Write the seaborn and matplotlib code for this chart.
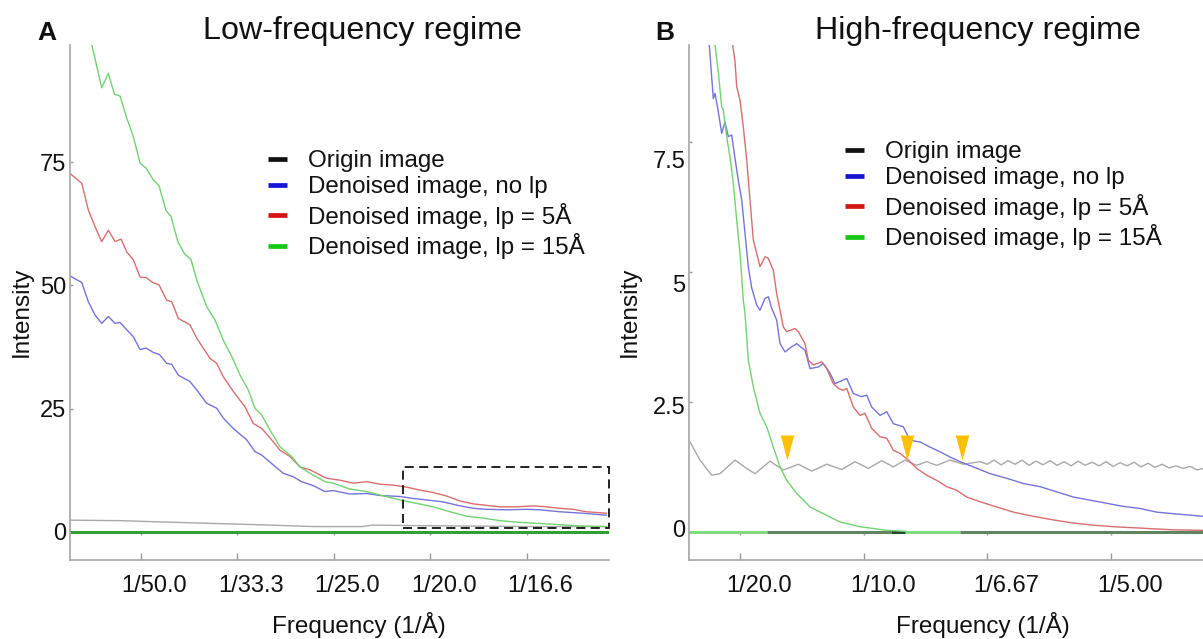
import numpy as np
import pandas as pd
import matplotlib
matplotlib.use("Agg")
import matplotlib.pyplot as plt
import seaborn as sns
from matplotlib.lines import Line2D
from matplotlib.patches import Rectangle
from matplotlib.transforms import ScaledTranslation

# ---------------- data: panel A (low-frequency regime) ----------------
a_green_f = [0.01420, 0.01489, 0.01592, 0.01661, 0.01723, 0.01782, 0.01852, 0.01920, 0.01990, 0.02052,
             0.02128, 0.02187, 0.02259, 0.02311, 0.02381, 0.02449, 0.02519, 0.02578, 0.02681, 0.02767,
             0.02853, 0.02941, 0.03027, 0.03113, 0.03182, 0.03252, 0.03338, 0.03441, 0.03563, 0.03649,
             0.03753, 0.03908, 0.03994, 0.04167, 0.04341, 0.04478, 0.04686, 0.04859, 0.05032, 0.05205,
             0.05378, 0.05550, 0.05723, 0.05896, 0.06068, 0.06241, 0.06414, 0.06587, 0.06830]
a_green_v = [103.5, 98.8, 90.1, 93.0, 88.8, 88.4, 83.9, 80.2, 74.8, 73.8,
             71.4, 70.2, 65.2, 64.0, 58.9, 56.5, 55.2, 51.1, 45.7, 43.0,
             38.9, 35.6, 31.8, 28.8, 25.1, 23.7, 20.7, 17.3, 15.3, 13.2,
             11.9, 10.2, 9.9, 8.7, 8.2, 7.5, 6.5, 5.8, 5.1, 4.1,
             3.2, 2.8, 2.3, 2.0, 1.8, 1.6, 1.4, 1.2, 1.1]

a_red_f = [0.01264, 0.01385, 0.01453, 0.01523, 0.01592, 0.01661, 0.01730, 0.01793, 0.01852, 0.01920,
           0.01990, 0.02052, 0.02121, 0.02187, 0.02266, 0.02318, 0.02387, 0.02508, 0.02578, 0.02716,
           0.02785, 0.02853, 0.02957, 0.03078, 0.03165, 0.03252, 0.03355, 0.03441, 0.03545, 0.03649,
           0.03753, 0.03926, 0.04064, 0.04202, 0.04341, 0.04478, 0.04616, 0.04755, 0.04893, 0.05032,
           0.05170, 0.05308, 0.05447, 0.05585, 0.05723, 0.05896, 0.06068, 0.06206, 0.06345, 0.06483,
           0.06622, 0.06830]
a_red_v = [72.7, 70.7, 65.3, 61.9, 58.9, 61.2, 58.9, 59.4, 56.8, 55.2,
           51.7, 51.6, 50.6, 50.1, 47.0, 46.7, 43.3, 42.0, 39.3, 35.2,
           34.2, 31.5, 28.5, 25.4, 22.0, 21.0, 18.7, 16.6, 15.3, 13.2,
           12.6, 10.9, 10.5, 9.9, 10.2, 9.7, 9.5, 9.1, 8.5, 8.0,
           7.3, 6.3, 5.7, 5.4, 5.1, 5.1, 5.3, 5.1, 4.8, 4.6,
           4.1, 3.8]

a_blue_f = [0.01264, 0.01385, 0.01453, 0.01523, 0.01592, 0.01661, 0.01730, 0.01782, 0.01852, 0.01920,
            0.01990, 0.02052, 0.02128, 0.02190, 0.02266, 0.02318, 0.02387, 0.02508, 0.02578, 0.02681,
            0.02785, 0.02853, 0.02957, 0.03096, 0.03182, 0.03252, 0.03372, 0.03476, 0.03579, 0.03666,
            0.03787, 0.03908, 0.03994, 0.04167, 0.04341, 0.04478, 0.04686, 0.04824, 0.04963, 0.05135,
            0.05308, 0.05447, 0.05585, 0.05792, 0.06000, 0.06138, 0.06345, 0.06587, 0.06830]
a_blue_v = [51.9, 50.6, 46.7, 44.0, 42.3, 43.7, 42.3, 42.5, 41.0, 39.6,
            37.0, 37.3, 36.4, 36.0, 34.2, 34.0, 31.8, 30.5, 28.8, 26.1,
            25.1, 23.1, 21.0, 18.7, 16.3, 15.6, 13.6, 11.9, 11.2, 10.2,
            9.4, 8.2, 8.4, 7.7, 7.8, 7.4, 7.2, 6.8, 6.5, 6.1,
            5.3, 4.8, 4.6, 4.5, 4.6, 4.5, 4.1, 3.8, 3.4]

a_gray_f = [0.01264, 0.01780, 0.02450, 0.03170, 0.03800, 0.04300, 0.04400, 0.04800, 0.05400, 0.06000, 0.06830]
a_gray_v = [2.4, 2.3, 1.9, 1.5, 1.1, 1.1, 1.4, 1.3, 1.2, 1.1, 1.1]

a_zoom_box = (0.0472, 0.75, 0.06855, 13.1)   # f0, v0, f1, v1 of dashed inset box

# ---------------- data: panel B (high-frequency regime) ----------------
b_blue_f = [0.03666, 0.03759, 0.03921, 0.03990, 0.04123, 0.04260, 0.04394, 0.04527, 0.04665, 0.04798,
            0.04931, 0.05069, 0.05202, 0.05335, 0.05473, 0.05675, 0.05808, 0.06011, 0.06144, 0.06281,
            0.06483, 0.06617, 0.06819, 0.07090, 0.07292, 0.07627, 0.07829, 0.08165, 0.08367, 0.08638,
            0.08840, 0.09175, 0.09313, 0.09580, 0.09919, 0.10121, 0.10323, 0.10659, 0.10930, 0.11196,
            0.11601, 0.11871, 0.12276, 0.12680, 0.13084, 0.13488, 0.13892, 0.14430, 0.15105, 0.15780,
            0.16451, 0.17126, 0.17801, 0.18472, 0.19147, 0.19822, 0.20493, 0.21168, 0.21843, 0.22514,
            0.23714]
b_blue_v = [9.84, 9.36, 8.33, 8.43, 8.08, 7.66, 7.88, 7.60, 7.63, 7.18,
            6.76, 6.38, 5.74, 5.10, 4.69, 4.36, 4.26, 4.49, 4.52, 4.30,
            4.07, 3.62, 3.46, 3.56, 3.62, 3.49, 3.14, 3.17, 3.24, 3.05,
            2.85, 2.92, 2.95, 2.66, 2.60, 2.63, 2.40, 2.24, 2.31, 2.08,
            2.02, 1.76, 1.73, 1.63, 1.54, 1.44, 1.35, 1.25, 1.12, 1.03,
            0.93, 0.87, 0.77, 0.67, 0.61, 0.55, 0.49, 0.45, 0.38, 0.35,
            0.30]

b_red_f = [0.04636, 0.04705, 0.04798, 0.04867, 0.05000, 0.05133, 0.05271, 0.05404, 0.05538, 0.05808,
           0.06011, 0.06144, 0.06346, 0.06483, 0.06750, 0.06888, 0.07223, 0.07357, 0.07627, 0.07761,
           0.07963, 0.08302, 0.08504, 0.08771, 0.08973, 0.09175, 0.09313, 0.09580, 0.09850, 0.10053,
           0.10323, 0.10659, 0.10930, 0.11196, 0.11467, 0.11803, 0.12142, 0.12546, 0.12950, 0.13355,
           0.13759, 0.14163, 0.14701, 0.15376, 0.16047, 0.16855, 0.17664, 0.18472, 0.19280, 0.20089,
           0.20897, 0.21705, 0.22514, 0.23714]
b_red_v = [9.84, 9.36, 9.04, 8.56, 8.30, 7.79, 7.15, 6.38, 5.61, 5.10,
           5.29, 5.26, 5.03, 4.58, 3.94, 3.85, 3.91, 3.85, 3.62, 3.30,
           3.21, 3.27, 3.14, 2.85, 2.76, 2.72, 2.76, 2.40, 2.24, 2.28,
           1.99, 1.83, 1.80, 1.57, 1.51, 1.38, 1.22, 1.09, 0.99, 0.87,
           0.80, 0.67, 0.58, 0.48, 0.38, 0.30, 0.23, 0.17, 0.13, 0.10,
           0.08, 0.06, 0.04, 0.03]

b_green_f = [0.03909, 0.03990, 0.04123, 0.04260, 0.04325, 0.04462, 0.04596, 0.04729, 0.04867, 0.05000,
             0.05069, 0.05133, 0.05202, 0.05335, 0.05538, 0.05808, 0.06079, 0.06346, 0.06617, 0.06888,
             0.07292, 0.07829, 0.08367, 0.09042, 0.09850, 0.10930, 0.11738]
b_green_v = [9.84, 9.36, 8.85, 8.17, 8.11, 7.60, 7.21, 6.70, 5.99, 5.35,
             4.90, 4.46, 4.20, 3.30, 2.79, 2.28, 2.02, 1.63, 1.25, 0.99,
             0.74, 0.48, 0.35, 0.19, 0.10, 0.03, 0.01]

b_gray_f = [0.02979, 0.03383, 0.03856, 0.04192, 0.04798, 0.05271, 0.05606, 0.06213, 0.06750, 0.07357,
            0.07898, 0.08504, 0.09111, 0.09648, 0.10186, 0.10727, 0.11196, 0.11669, 0.12142, 0.12546,
            0.12950, 0.13488, 0.14026, 0.14701, 0.14984, 0.15267, 0.15550, 0.15833, 0.16116, 0.16398,
            0.16681, 0.16964, 0.17247, 0.17530, 0.17813, 0.18096, 0.18379, 0.18662, 0.18945, 0.19228,
            0.19511, 0.19794, 0.20077, 0.20360, 0.20643, 0.20925, 0.21208, 0.21491, 0.21774, 0.22057,
            0.22340, 0.22623, 0.22906, 0.23189, 0.23472, 0.23714]
b_gray_v = [1.73, 1.38, 1.09, 1.12, 1.38, 1.22, 1.12, 1.36, 1.19, 1.30,
            1.17, 1.30, 1.20, 1.35, 1.22, 1.37, 1.25, 1.38, 1.28, 1.35,
            1.28, 1.38, 1.30, 1.35, 1.30, 1.38, 1.29, 1.37, 1.30, 1.38,
            1.28, 1.36, 1.29, 1.37, 1.28, 1.35, 1.27, 1.36, 1.28, 1.34,
            1.27, 1.35, 1.26, 1.33, 1.27, 1.34, 1.25, 1.32, 1.24, 1.30,
            1.23, 1.27, 1.22, 1.26, 1.19, 1.22]

# zero-level trace segments in panel B (frequency ranges)
b_zero_light = [(0.0294, 0.0609), (0.1167, 0.1389)]
b_zero_dark = [(0.0609, 0.1110), (0.1389, 0.2371)]
b_zero_black = [(0.1110, 0.1167)]

# arrowhead markers (frequency, intensity at tip)
b_arrow_f = [0.06888, 0.11762, 0.13961]
b_arrow_v = [1.38, 1.38, 1.38]

# ticks / labels
a_xticks = [0.02, 0.03, 0.04, 0.05, 0.06]
a_xticklabels = ["1/50.0", "1/33.3", "1/25.0", "1/20.0", "1/16.6"]
a_yticks = [0, 25, 50, 75]
b_xticks = [0.05, 0.10, 0.15, 0.20]
b_xticklabels = ["1/20.0", "1/10.0", "1/6.67", "1/5.00"]
b_yticks = [0, 2.5, 5, 7.5]
b_yticklabels = ["0", "2.5", "5", "7.5"]

series_names = ["Origin image", "Denoised image, no lp", "Denoised image, lp = 5Å", "Denoised image, lp = 15Å"]
legend_colors = ["#111111", "#1414d2", "#d21414", "#14c814"]
curve_colors = {"Origin image": "#a8a8a8", "Denoised image, no lp": "#7474dc",
                "Denoised image, lp = 5Å": "#d86e6e", "Denoised image, lp = 15Å": "#72d272"}

# ---------------- build frames ----------------
def frame(pairs):
    parts = []
    for name, f, v in pairs:
        parts.append(pd.DataFrame({"freq": f, "intensity": v, "series": name}))
    return pd.concat(parts, ignore_index=True)

dfA = frame([(series_names[0], a_gray_f, a_gray_v), (series_names[1], a_blue_f, a_blue_v),
             (series_names[2], a_red_f, a_red_v), (series_names[3], a_green_f, a_green_v)])
dfB = frame([(series_names[0], b_gray_f, b_gray_v), (series_names[1], b_blue_f, b_blue_v),
             (series_names[2], b_red_f, b_red_v), (series_names[3], b_green_f, b_green_v)])

# ---------------- figure ----------------
sns.set_theme(style="white")
plt.rcParams["font.family"] = ["Liberation Sans", "DejaVu Sans"]

W, H = 1203, 639
fig = plt.figure(figsize=(W / 100, H / 100), dpi=100)
axA = fig.add_axes([70 / W, 1 - 560 / H, 539 / W, 515 / H])
axB = fig.add_axes([689 / W, 1 - 560 / H, (W - 689) / W, 515 / H])

for ax, df in ((axA, dfA), (axB, dfB)):
    sns.lineplot(data=df, x="freq", y="intensity", hue="series", hue_order=series_names,
                 palette=curve_colors, legend=False, ax=ax, linewidth=1.0,
                 estimator=None, sort=False)

# zero lines
axA.axhline(0, color="#33a033", lw=2.2, zorder=1)
axB.hlines([0] * len(b_zero_light), [s for s, e in b_zero_light], [e for s, e in b_zero_light],
           colors="#80dc80", lw=2.2, zorder=1)
axB.hlines([0] * len(b_zero_dark), [s for s, e in b_zero_dark], [e for s, e in b_zero_dark],
           colors="#5f845f", lw=2.2, zorder=1)
axB.hlines([0] * len(b_zero_black), [s for s, e in b_zero_black], [e for s, e in b_zero_black],
           colors="#2a4a2a", lw=2.2, zorder=1)

# limits
axA.set_xlim(0.01263, 0.06855)
axA.set_ylim(-5.68, 98.76)
axB.set_xlim(0.02939, 0.2371)
axB.set_ylim(-0.54, 9.36)

# dashed inset box
f0, v0, f1, v1 = a_zoom_box
axA.add_patch(Rectangle((f0, v0), f1 - f0, v1 - v0, fill=False, ec="#111111", lw=1.3,
                        ls=(0, (5, 3)), clip_on=False, zorder=4))

# arrowheads
tri = [(-0.27, 1.0), (0.27, 1.0), (0.0, 0.0)]
axB.scatter(b_arrow_f, b_arrow_v, marker=tri, s=1296, color="#FFC000", linewidths=0, zorder=6)

# axes styling
spine_col = "#a6a6a6"
for ax in (axA, axB):
    sns.despine(ax=ax)
    for s in ("left", "bottom"):
        ax.spines[s].set_color(spine_col)
        ax.spines[s].set_linewidth(1.2)
    ax.tick_params(axis="x", direction="in", length=5, width=1, color="#999999",
                   labelsize=17, pad=11, labelcolor="#111111", bottom=True)
    ax.tick_params(axis="y", direction="in", length=2.5, width=1, color="#999999",
                   labelsize=17, pad=2.5, labelcolor="#111111", left=True)
    ax.set_xlabel("Frequency (1/Å)", fontsize=17.5, color="#111111")
    ax.set_ylabel("Intensity", fontsize=17.5, color="#111111")

axA.set_xticks(a_xticks)
axA.set_xticklabels(a_xticklabels)
axA.set_yticks(a_yticks)
axA.set_yticklabels([str(t) for t in a_yticks])
axB.set_xticks(b_xticks)
axB.set_xticklabels(b_xticklabels)
axB.set_yticks(b_yticks)
axB.set_yticklabels(b_yticklabels)

# secondary tick rows at the zero level
for ax in (axA, axB):
    y0, y1 = ax.get_ylim()
    sec = ax.secondary_xaxis((0 - y0) / (y1 - y0))
    sec.set_xticks(ax.get_xticks())
    sec.tick_params(direction="out", length=2.5, width=1, color="#999999", labelbottom=False)
    sec.spines["bottom"].set_visible(False)

# tick-label offsets (as in the reference layout)
def shift(labels, dx_px, dy_px):
    for lab, dx, dy in zip(labels, dx_px, dy_px):
        lab.set_transform(lab.get_transform() + ScaledTranslation(dx / 100, -dy / 100, fig.dpi_scale_trans))

shift([t.label1 for t in axA.xaxis.get_major_ticks()], [13.5] * 5, [0] * 5)
shift([t.label1 for t in axB.xaxis.get_major_ticks()], [19] * 4, [0] * 4)
shift([t.label1 for t in axB.yaxis.get_major_ticks()], [0] * 4, [-3.7, 3.3, 11.3, 17.7])

# axis label positions
axA.xaxis.set_label_coords((358.7 - 70) / 539, (560 - 612) / 515)
axB.xaxis.set_label_coords((983 - 689) / (W - 689), (560 - 612) / 515)
axA.yaxis.set_label_coords((33 - 70) / 539, (560 - 312) / 515)
axB.yaxis.set_label_coords((641 - 689) / (W - 689), (560 - 312) / 515)

# titles and panel letters
axA.set_title("Low-frequency regime", fontsize=23.2, x=(362.6 - 70) / 539, pad=4, color="#111111")
axB.set_title("High-frequency regime", fontsize=23.2, x=(977.5 - 689) / (W - 689), pad=4, color="#111111")
fig.text(37 / W, 1 - 40 / H, "A", fontsize=19, fontweight="bold", va="baseline", ha="left", color="#111111")
fig.text(655 / W, 1 - 40 / H, "B", fontsize=19, fontweight="bold", va="baseline", ha="left", color="#111111")

# legends
handles = [Line2D([], [], color=c, lw=3.4, solid_capstyle="butt") for c in legend_colors]
for ax, x0, ytop in ((axA, 268, 150), (axB, 845, 141)):
    ax.legend(handles, series_names, loc="upper left", bbox_to_anchor=(x0 / W, 1 - ytop / H),
              bbox_transform=fig.transFigure, frameon=False, fontsize=17.4,
              handlelength=0.8, handletextpad=0.85, labelspacing=0.18,
              borderpad=0, borderaxespad=0, labelcolor="#111111")

fig.savefig("out.png", dpi=100)
